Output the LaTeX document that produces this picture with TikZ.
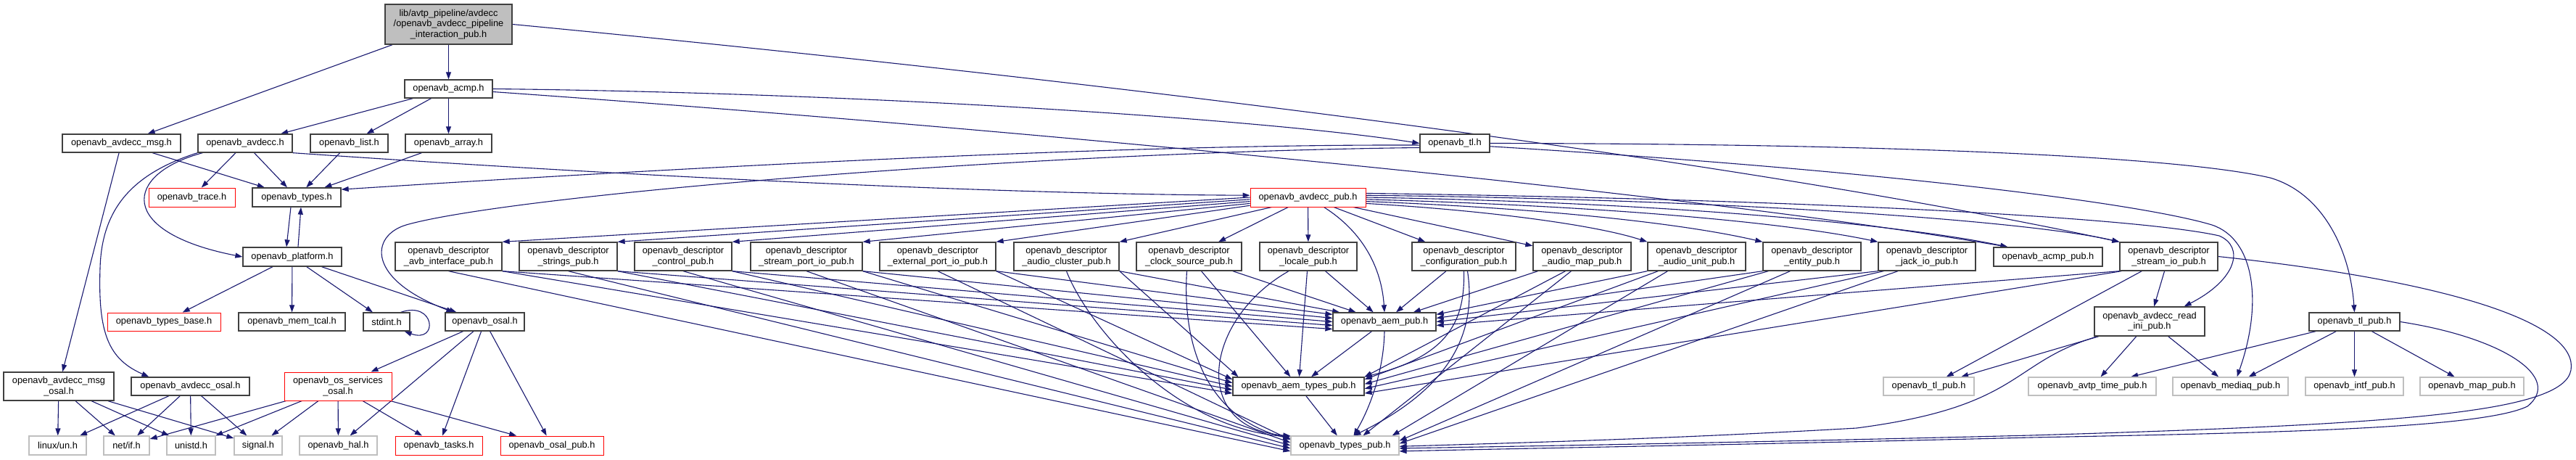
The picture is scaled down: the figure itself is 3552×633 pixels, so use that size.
\documentclass[tikz,border=0pt]{standalone}
\usepackage{fontspec}
\setmainfont{Liberation Sans}
\usetikzlibrary{arrows.meta}
\definecolor{edgec}{RGB}{25,25,112}
\definecolor{bdark}{RGB}{64,64,64}
\definecolor{bgray}{RGB}{191,191,191}
\pgfdeclarelayer{bgl}
\pgfdeclarelayer{edgelayer}
\pgfsetlayers{bgl,edgelayer,main}
\newcommand\bx[7]{%
 \pgfmathsetmacro\bxw{#5-#3}\pgfmathsetmacro\bxh{#6-#4}%
 \pgfmathsetmacro\bxx{(#3+#5)/2}\pgfmathsetmacro\bxy{(#4+#6)/2}%
 \node[#2, minimum width=\bxw pt, minimum height=\bxh pt] (#1) at (\bxx,\bxy) {#7};}
\begin{document}
\begin{tikzpicture}[x=1pt,y=-1pt,
  nb/.style={draw=bdark, line width=1.3pt, fill=white, inner sep=0pt, align=center,
             font=\fontsize{12.8}{14.5}\selectfont},
  nr/.style={nb, draw=red, line width=1pt},
  ng/.style={nb, draw=bgray, line width=1.2pt},
  nroot/.style={nb, fill=bgray},
  edg/.style={draw=edgec, line width=1.1pt, -{Triangle[length=10pt,width=7pt]}}]
\begin{pgfonlayer}{bgl}
\fill[white] (0,0) rectangle (3552,633);
\end{pgfonlayer}
\useasboundingbox (0,0) rectangle (3552,633);
% rows
\bx{root}{nroot}{531}{6}{706}{61}{lib/avtp\_pipeline/avdecc\\/openavb\_avdecc\_pipeline\\\_interaction\_pub.h}
\bx{acmp}{nb}{558}{110}{679}{135}{openavb\_acmp.h}
\bx{amsg}{nb}{86}{185}{249}{210}{openavb\_avdecc\_msg.h}
\bx{avdecc}{nb}{273}{185}{403}{210}{openavb\_avdecc.h}
\bx{list}{nb}{428}{185}{535}{210}{openavb\_list.h}
\bx{array}{nb}{559}{185}{678}{210}{openavb\_array.h}
\bx{tl}{nb}{1958}{185}{2054}{210}{openavb\_tl.h}
\bx{trace}{nr}{205}{259}{324}{285}{openavb\_trace.h}
\bx{types}{nb}{348}{259}{470}{285}{openavb\_types.h}
\bx{adpub}{nr}{1724}{259}{1883}{285}{openavb\_avdecc\_pub.h}
\bx{plat}{nb}{335}{341}{471}{367}{openavb\_platform.h}
\bx{apub}{nb}{2749}{341}{2899}{367}{openavb\_acmp\_pub.h}
\bx{dAvb}{nb}{545}{334}{692}{373}{openavb\_descriptor\\\_avb\_interface\_pub.h}
\bx{dStr}{nb}{716}{334}{851}{373}{openavb\_descriptor\\\_strings\_pub.h}
\bx{dCtl}{nb}{875}{334}{1009}{373}{openavb\_descriptor\\\_control\_pub.h}
\bx{dSpi}{nb}{1035}{334}{1189}{373}{openavb\_descriptor\\\_stream\_port\_io\_pub.h}
\bx{dExt}{nb}{1213}{334}{1373}{373}{openavb\_descriptor\\\_external\_port\_io\_pub.h}
\bx{dAcl}{nb}{1398}{334}{1543}{373}{openavb\_descriptor\\\_audio\_cluster\_pub.h}
\bx{dClk}{nb}{1567}{334}{1712}{373}{openavb\_descriptor\\\_clock\_source\_pub.h}
\bx{dLoc}{nb}{1737}{334}{1871}{373}{openavb\_descriptor\\\_locale\_pub.h}
\bx{dCfg}{nb}{1947}{334}{2090}{373}{openavb\_descriptor\\\_configuration\_pub.h}
\bx{dAmap}{nb}{2114}{334}{2249}{373}{openavb\_descriptor\\\_audio\_map\_pub.h}
\bx{dAunit}{nb}{2272}{334}{2407}{373}{openavb\_descriptor\\\_audio\_unit\_pub.h}
\bx{dEnt}{nb}{2431}{334}{2566}{373}{openavb\_descriptor\\\_entity\_pub.h}
\bx{dJack}{nb}{2590}{334}{2724}{373}{openavb\_descriptor\\\_jack\_io\_pub.h}
\bx{dSio}{nb}{2923}{334}{3058}{373}{openavb\_descriptor\\\_stream\_io\_pub.h}
\bx{tbase}{nr}{148}{431}{304}{456}{openavb\_types\_base.h}
\bx{mtcal}{nb}{329}{431}{476}{456}{openavb\_mem\_tcal.h}
\bx{stdint}{nb}{501}{431}{565}{456}{stdint.h}
\bx{osal}{nb}{614}{431}{723}{456}{openavb\_osal.h}
\bx{aempub}{nb}{1838}{431}{1980}{456}{openavb\_aem\_pub.h}
\bx{tlpb}{nb}{3184}{431}{3309}{456}{openavb\_tl\_pub.h}
\bx{ini}{nb}{2888}{423}{3040}{463}{openavb\_avdecc\_read\\\_ini\_pub.h}
\bx{msgosal}{nb}{5}{513}{157}{552}{openavb\_avdecc\_msg\\\_osal.h}
\bx{aosal}{nb}{181}{520}{344}{545}{openavb\_avdecc\_osal.h}
\bx{oss}{nr}{392}{513}{540}{552}{openavb\_os\_services\\\_osal.h}
\bx{aemt}{nb}{1700}{520}{1881}{545}{openavb\_aem\_types\_pub.h}
\bx{tlpg}{ng}{2597}{520}{2722}{545}{openavb\_tl\_pub.h}
\bx{avtp}{ng}{2797}{520}{2973}{545}{openavb\_avtp\_time\_pub.h}
\bx{mediaq}{ng}{2996}{520}{3155}{545}{openavb\_mediaq\_pub.h}
\bx{intf}{ng}{3179}{520}{3314}{545}{openavb\_intf\_pub.h}
\bx{map}{ng}{3337}{520}{3480}{545}{openavb\_map\_pub.h}
\bx{lun}{ng}{40}{601}{119}{627}{linux/un.h}
\bx{netif}{ng}{143}{601}{206}{627}{net/if.h}
\bx{unistd}{ng}{230}{601}{297}{627}{unistd.h}
\bx{signal}{ng}{323}{601}{389}{627}{signal.h}
\bx{hal}{ng}{413}{601}{520}{627}{openavb\_hal.h}
\bx{tasks}{nr}{545}{601}{665}{627}{openavb\_tasks.h}
\bx{opub}{nr}{690}{601}{832}{627}{openavb\_osal\_pub.h}
\bx{tpub}{ng}{1780}{601}{1929}{627}{openavb\_types\_pub.h}
\begin{pgfonlayer}{edgelayer}
% root
\draw[edg] (root) -- (amsg);
\draw[edg] (root) -- (acmp);
\draw[edg] (root.east) .. controls (1300,90) and (2300,200) .. (dSio.north west);
% acmp
\draw[edg] (acmp) -- (avdecc);
\draw[edg] (acmp) -- (list);
\draw[edg] (acmp) -- (array);
\draw[edg] (acmp.east) .. controls (1200,128) and (1750,165) .. (tl.west);
\draw[edg] ([yshift=-4pt]acmp.east) .. controls (1300,170) and (2300,260) .. ([xshift=20pt]apub.north west);
% avdecc_msg, avdecc, list, array
\draw[edg] (amsg) -- (types);
\draw[edg] (amsg) -- (msgosal);
\draw[edg] (avdecc) -- (trace);
\draw[edg] (avdecc) -- (types);
\draw[edg] ([xshift=7pt]avdecc.south west) .. controls (170,240) and (160,320) .. (plat.west);
\draw[edg] (avdecc.south west) .. controls (180,240) and (140,290) .. (138,370) .. controls (135,460) and (150,495) .. ([xshift=25pt]aosal.north west);
\draw[edg] (avdecc.south east) .. controls (900,245) and (1400,268) .. (adpub.178);
\draw[edg] (list) -- (types);
\draw[edg] (array) -- (types);
% types / platform
\draw[edg] ([xshift=-8pt]types.south) -- ([xshift=-8pt]plat.north);
\draw[edg] ([xshift=8pt]plat.north) -- ([xshift=6pt]types.south);
\draw[edg] (plat) -- (tbase);
\draw[edg] (plat) -- (mtcal);
\draw[edg] (plat) -- (stdint);
\draw[edg] (plat) -- (osal);
\draw[edg] ([xshift=-13pt]stdint.north east) .. controls (600,414) and (605,474) .. ([xshift=-8pt]stdint.south east);
% tl
\draw[edg] (tl.183) .. controls (1500,198) and (800,240) .. (types.10);
\draw[edg] (tl.187) .. controls (1400,210) and (700,270) .. (560,310) .. controls (510,325) and (505,385) .. ([xshift=12pt]osal.north west);
\draw[edg] (tl.east) .. controls (2600,198) and (3000,215) .. (3130,245) .. controls (3200,265) and (3240,340) .. (tlpb.north);
\draw[edg] (tl.355) .. controls (2600,235) and (2950,280) .. (3050,310) .. controls (3110,330) and (3120,420) .. ([xshift=9pt]mediaq.north);
% avdecc_pub
\draw[edg] (adpub.180) -- (dAvb.north east);
\draw[edg] (adpub.182) -- (dStr.north east);
\draw[edg] (adpub.184) -- (dCtl.north east);
\draw[edg] (adpub.186) -- (dSpi.north east);
\draw[edg] (adpub.188) -- (dExt.north east);
\draw[edg] ([xshift=30pt]adpub.south west) -- (dAcl.north east);
\draw[edg] (adpub) -- (dClk);
\draw[edg] (adpub) -- (dLoc);
\draw[edg] ([xshift=22pt]adpub.south) .. controls (1880,320) and (1905,370) .. (aempub.north);
\draw[edg] (adpub) -- (dCfg);
\draw[edg] (adpub) -- (dAmap);
\draw[edg] (adpub.354) .. controls (2050,290) and (2200,310) .. (dAunit.north west);
\draw[edg] (adpub.356) .. controls (2150,288) and (2330,310) .. (dEnt.north west);
\draw[edg] (adpub.358) .. controls (2250,285) and (2480,310) .. (dJack.north west);
\draw[edg] (adpub.east) .. controls (2350,280) and (2650,315) .. ([xshift=20pt]apub.north west);
\draw[edg] (adpub.2) .. controls (2400,275) and (2800,305) .. (dSio.north west);
\draw[edg] (adpub.4) .. controls (2500,275) and (2950,300) .. (3060,325) .. controls (3095,340) and (3085,385) .. ([xshift=-29pt]ini.north east);
% left descriptors
\draw[edg] (dAvb.south east) -- (aempub.188);
\draw[edg] (dAvb.south east) -- (aemt.186);
\draw[edg] (dAvb.south) -- (tpub.186);
\draw[edg] (dStr.south east) -- (aempub.184);
\draw[edg] (dStr.south east) -- (aemt.183);
\draw[edg] (dStr.south) -- (tpub.183);
\draw[edg] (dCtl.south east) -- (aempub.180);
\draw[edg] (dCtl.south east) -- (aemt.180);
\draw[edg] (dCtl.south) -- (tpub.180);
\draw[edg] (dSpi.south east) -- (aempub.176);
\draw[edg] (dSpi.south east) -- (aemt.177);
\draw[edg] (dSpi.south) -- (tpub.177);
\draw[edg] (dExt.south east) -- (aempub.172);
\draw[edg] (dExt.south east) -- (aemt.174);
\draw[edg] (dExt.south) -- (tpub.174);
\draw[edg] (dAcl.south east) -- (aempub.168);
\draw[edg] (dAcl.south east) -- (aemt.171);
\draw[edg] (dAcl.south) .. controls (1500,450) and (1620,590) .. (tpub.171);
\draw[edg] (dClk) -- (aempub);
\draw[edg] (dClk) -- (aemt);
\draw[edg] ([xshift=-3pt]dClk.south) .. controls (1630,470) and (1660,575) .. (tpub.173);
\draw[edg] (dLoc) -- (aempub);
\draw[edg] (dLoc) -- (aemt);
\draw[edg] ([xshift=-27pt]dLoc.south) .. controls (1660,440) and (1640,590) .. (tpub.170);
% right descriptors
\draw[edg] (dCfg) -- (aempub);
\draw[edg] (dCfg.south) .. controls (2020,440) and (2000,490) .. (aemt.north east);
\draw[edg] ([xshift=5pt]dCfg.south) .. controls (2035,450) and (2010,530) .. ([xshift=12pt]tpub.north);
\draw[edg] (dAmap) -- (aempub);
\draw[edg] ([xshift=-23pt]dAmap.south) -- (aemt.north east);
\draw[edg] ([xshift=-15pt]dAmap.south) -- ([xshift=25pt]tpub.north);
\draw[edg] (dAunit.south west) -- (aempub.8);
\draw[edg] ([xshift=15pt]dAunit.south west) -- (aemt.6);
\draw[edg] ([xshift=-40pt]dAunit.south) -- ([xshift=-10pt]tpub.north east);
\draw[edg] (dEnt.south west) -- (aempub.4);
\draw[edg] ([xshift=8pt]dEnt.south west) -- (aemt.2);
\draw[edg] ([xshift=-30pt]dEnt.south) -- (tpub.5);
\draw[edg] (dJack.south west) -- (aempub.0);
\draw[edg] ([xshift=8pt]dJack.south west) -- (aemt.358);
\draw[edg] ([xshift=-40pt]dJack.south) -- (tpub.2);
\draw[edg] (dSio.south west) -- (aempub.356);
\draw[edg] ([xshift=3pt]dSio.south west) -- (aemt.354);
\draw[edg] (dSio) -- (ini);
\draw[edg] (dSio) -- (tlpg);
\draw[edg] (dSio.east) .. controls (3400,390) and (3555,450) .. (3545,510) .. controls (3535,570) and (3300,585) .. (2800,600) .. controls (2400,610) and (2100,615) .. (tpub.357);
% read ini
\draw[edg] (ini) -- (tlpg);
\draw[edg] (ini) -- (avtp);
\draw[edg] (ini) -- (mediaq);
\draw[edg] ([xshift=5pt]ini.south west) .. controls (2770,500) and (2790,560) .. (2560,590) .. controls (2300,605) and (2100,610) .. (tpub.359);
% tl_pub
\draw[edg] (tlpb) -- (avtp);
\draw[edg] (tlpb) -- (mediaq);
\draw[edg] (tlpb) -- (intf);
\draw[edg] (tlpb) -- (map);
\draw[edg] (tlpb.east) .. controls (3450,465) and (3535,520) .. (3485,560) .. controls (3420,592) and (3100,597) .. (2800,603) .. controls (2400,613) and (2100,618) .. (tpub.354);
% aem
\draw[edg] (aempub) -- (aemt);
\draw[edg] (aempub.south) .. controls (1908,510) and (1890,560) .. ([xshift=12pt]tpub.north);
\draw[edg] (aemt) -- (tpub);
% osal
\draw[edg] (osal) -- (oss);
\draw[edg] (osal) -- (hal);
\draw[edg] (osal) -- (tasks);
\draw[edg] (osal) -- (opub);
\foreach \t in {netif,unistd,signal,hal,tasks,opub} \draw[edg] (oss) -- (\t);
\foreach \t in {lun,netif,unistd,signal} \draw[edg] (msgosal) -- (\t);
\foreach \t in {lun,netif,unistd,signal} \draw[edg] (aosal) -- (\t);
\end{pgfonlayer}
\end{tikzpicture}
\end{document}
